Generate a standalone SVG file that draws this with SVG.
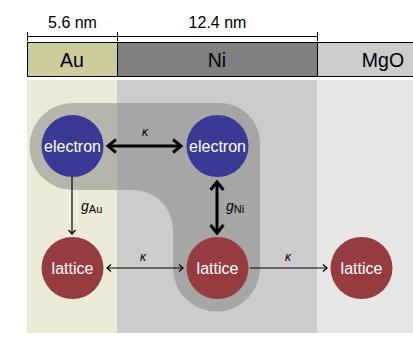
<svg xmlns="http://www.w3.org/2000/svg" width="413" height="348" viewBox="0 0 413 348">
<style>
.lbl{font-family:"Liberation Sans",Arial,sans-serif;fill:#000}
.node{font-family:"Liberation Sans",Arial,sans-serif;font-size:16px;fill:#fff;text-anchor:middle}
.el{fill:#3a3a96}
.la{fill:#963b40}
.thick{stroke:#000;stroke-width:3;fill:none}
.thin{stroke:#000;stroke-width:1.2;fill:none}
.k{font-family:"Liberation Sans",Arial,sans-serif;font-style:italic;font-size:12px;fill:#000;text-anchor:middle}
.g{font-family:"Liberation Sans",Arial,sans-serif;font-style:italic;font-size:14px;fill:#000}
.sub{font-family:"Liberation Sans",Arial,sans-serif;font-size:11px;fill:#000}
</style>
<defs>
<marker id="ahb" viewBox="-10 -10 12 20" refX="0" refY="0" markerWidth="12" markerHeight="20" markerUnits="userSpaceOnUse" orient="auto-start-reverse" overflow="visible"><path d="M-8,-6.5 L0,0 L-8,6.5" fill="none" stroke="#000" stroke-width="3"/></marker>
<marker id="aht" viewBox="-6 -6 8 12" refX="0" refY="0" markerWidth="8" markerHeight="12" markerUnits="userSpaceOnUse" orient="auto-start-reverse" overflow="visible"><path d="M-4,-3.5 L0,0 L-4,3.5" fill="none" stroke="#000" stroke-width="1.2"/></marker>
</defs>
<rect width="413" height="348" fill="#fff"/>
<!-- dimension lines -->
<g id="dimensions" stroke="#000" stroke-width="1">
<line x1="27" y1="36.5" x2="317" y2="36.5"/>
<line x1="27.5" y1="32" x2="27.5" y2="41"/>
<line x1="117.5" y1="32" x2="117.5" y2="41"/>
<line x1="317.5" y1="32" x2="317.5" y2="41"/>
</g>
<text class="lbl" x="72.5" y="28" font-size="16" text-anchor="middle">5.6 nm</text>
<text class="lbl" x="217.5" y="28" font-size="16" text-anchor="middle">12.4 nm</text>
<!-- layer bar -->
<g id="layers">
<rect x="27.5" y="42.5" width="90" height="34" fill="#cccc9c" stroke="#000"/>
<rect x="117.5" y="42.5" width="200" height="34" fill="#808080" stroke="#000"/>
<rect x="317.5" y="42.5" width="100" height="34" fill="#cccccc" stroke="#000"/>
<text class="lbl" x="72" y="67" font-size="19.5" text-anchor="middle">Au</text>
<text class="lbl" x="217" y="67" font-size="19.5" text-anchor="middle">Ni</text>
<text class="lbl" x="383" y="67" font-size="19.5" text-anchor="middle">MgO</text>
</g>
<!-- backgrounds -->
<rect x="27" y="80" width="90" height="253" fill="#ebebd7"/>
<rect x="117" y="80" width="200" height="253" fill="#cccccc"/>
<rect x="317" y="80" width="96" height="253" fill="#e6e6e6"/>
<!-- shaded region -->
<path d="M73,103 H220 A40,40 0 0 1 260,143 V268 A43.5,43.5 0 0 1 173,268 V230 A40,40 0 0 0 133,190 H73 A43.5,43.5 0 0 1 73,103 Z" fill="#808080" fill-opacity="0.5"/>
<!-- connectors -->
<g id="connectors">
<line class="thick" x1="108" y1="146" x2="181" y2="146" marker-start="url(#ahb)" marker-end="url(#ahb)"/>
<line class="thick" x1="217" y1="182" x2="217" y2="233" marker-start="url(#ahb)" marker-end="url(#ahb)"/>
<line class="thin" x1="72" y1="177" x2="72" y2="234" marker-end="url(#aht)"/>
<line class="thin" x1="107" y1="268" x2="183" y2="268" marker-start="url(#aht)" marker-end="url(#aht)"/>
<line class="thin" x1="250" y1="268" x2="327" y2="268" marker-end="url(#aht)"/>
<text class="k" x="145" y="136">κ</text>
<text class="k" x="143" y="261">κ</text>
<text class="k" x="288" y="261">κ</text>
<text x="81" y="211"><tspan class="g">g</tspan><tspan class="sub" dy="2">Au</tspan></text>
<text x="226" y="211"><tspan class="g">g</tspan><tspan class="sub" dy="2">Ni</tspan></text>
</g>
<!-- nodes -->
<g id="electron-au"><circle class="el" cx="72.5" cy="146" r="31"/><text class="node" x="72.5" y="152">electron</text></g>
<g id="electron-ni"><circle class="el" cx="217.5" cy="146" r="31"/><text class="node" x="217.5" y="152">electron</text></g>
<g id="lattice-au"><circle class="la" cx="72.5" cy="268" r="31"/><text class="node" x="72.5" y="274">lattice</text></g>
<g id="lattice-ni"><circle class="la" cx="217.5" cy="268" r="31"/><text class="node" x="217.5" y="274">lattice</text></g>
<g id="lattice-mgo"><circle class="la" cx="361.5" cy="268" r="31"/><text class="node" x="361.5" y="274">lattice</text></g>
</svg>
